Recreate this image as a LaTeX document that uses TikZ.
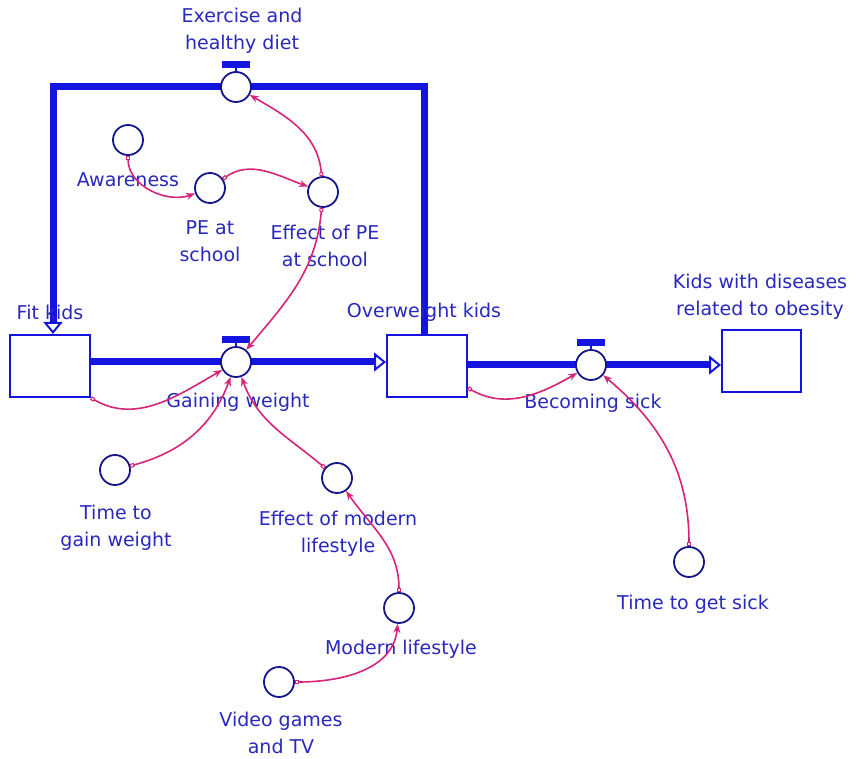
\documentclass[tikz,border=0pt]{standalone}
\usepackage{fontspec}
\setmainfont{DejaVu Sans}
\usetikzlibrary{arrows.meta,backgrounds,calc}
\definecolor{pipeblue}{RGB}{20,20,225}
\definecolor{txtblue}{RGB}{40,40,190}
\definecolor{navy}{RGB}{20,20,140}
\definecolor{linkc}{RGB}{215,35,120}
\tikzset{
 stock/.style={draw=pipeblue, line width=2pt, fill=white, minimum width=80pt, minimum height=62pt, inner sep=0pt},
 conv/.style={circle, draw=navy, line width=1.8pt, fill=white, minimum size=30pt, inner sep=0pt},
 valve/.style={conv},
 lbl/.style={text=txtblue, font=\fontsize{19}{27}\selectfont, align=center, inner sep=0pt},
 pipe/.style={draw=pipeblue, line width=7pt, -{Triangle[fill=white,length=12pt,width=19pt,line width=2pt]}},
 lnk/.style={draw=linkc, line width=1.6pt, {Square[open,length=4pt,width=4pt,line width=1pt]}-{Stealth[length=9pt,width=7pt]}},
}
\begin{document}
\begin{tikzpicture}[x=1pt,y=1pt]
\useasboundingbox (0,0) rectangle (857,-759);
% stocks
\node[stock] (fit) at (50,-366) {};
\node[stock] (ow) at (427,-366) {};
\node[stock, minimum width=79pt] (kd) at (761.5,-361) {};
% valves
\node[valve] (gw) at (236,-362) {};
\node[valve] (bs) at (591,-365) {};
\node[valve] (ex) at (236,-87) {};
\foreach \v in {gw,bs,ex}{
  \draw[pipeblue, line width=1.5pt] (\v.north) -- ++(0,4);
  \fill[pipeblue] ($(\v.north)+(-14,3)$) rectangle ($(\v.north)+(14,10)$);
}
% pipes
\begin{pgfonlayer}{background}
\draw[pipe] (fit.east |- gw) -- (ow.west |- gw);
\draw[pipe] (ow.east |- bs) -- (kd.west |- bs);
\draw[pipe] ([xshift=-3pt]ow.north) |- (ex.center) -| ([xshift=3pt]fit.north);
\end{pgfonlayer}
% converters
\node[conv] (aw) at (128,-140) {};
\node[conv] (pe) at (210,-188) {};
\node[conv] (epe) at (323,-192) {};
\node[conv] (tgw) at (115,-470) {};
\node[conv] (eml) at (337,-478) {};
\node[conv] (ml) at (399,-608) {};
\node[conv] (vg) at (279,-682) {};
\node[conv] (tgs) at (689,-562) {};
% labels
\node[lbl] (lex) at (242,-31) {Exercise and\\healthy diet};
\node[lbl] (law) at (128,-180) {Awareness};
\node[lbl] (lpe) at (210,-241) {PE at\\school};
\node[lbl] (lepe) at (325,-246) {Effect of PE\\at school};
\node[lbl] (lfit) at (50,-312) {Fit kids};
\node[lbl] (low) at (424,-312) {Overweight kids};
\node[lbl] (lkd) at (760,-297) {Kids with diseases\\related to obesity};
\node[lbl] (lgw) at (238,-402) {Gaining weight};
\node[lbl] (lbs) at (593,-403) {Becoming sick};
\node[lbl] (ltgw) at (116,-528) {Time to\\gain weight};
\node[lbl] (leml) at (338,-534) {Effect of modern\\lifestyle};
\node[lbl] (lml) at (401,-649) {Modern lifestyle};
\node[lbl] (lvg) at (281,-733) {Video games\\and TV};
\node[lbl] (ltgs) at (693,-604) {Time to get sick};
% links
\draw[lnk] (aw) to[out=-90,in=200] (pe);
\draw[lnk] (pe) to[out=35,in=160] (epe);
\draw[lnk] (epe) to[out=95,in=-30] (ex);
\draw[lnk] (epe) to[out=-95,in=50] (gw);
\draw[lnk] (fit.south east) to[out=-30,in=210] (gw);
\draw[lnk] (tgw) to[out=15,in=-110] (gw);
\draw[lnk] (eml) to[out=140,in=-70] (gw);
\draw[lnk] (ml) to[out=90,in=-55] (eml);
\draw[lnk] (vg) to[out=0,in=-95] (ml);
\draw[lnk] ([yshift=10pt]ow.south east) to[out=-30,in=210] (bs);
\draw[lnk] (tgs) to[out=90,in=-40] (bs);
\end{tikzpicture}
\end{document}
